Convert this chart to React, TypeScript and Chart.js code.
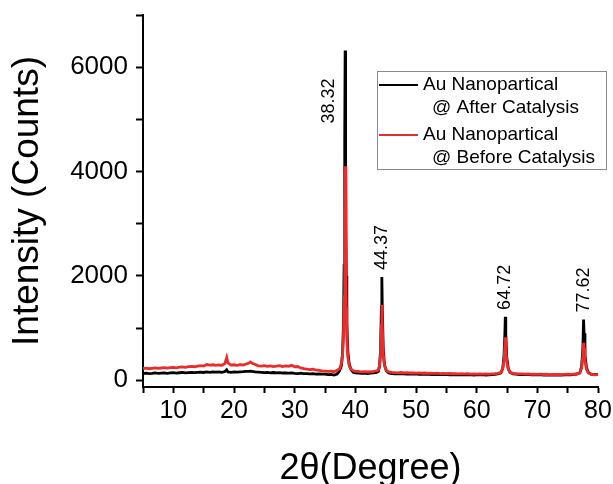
import React, { useEffect, useRef } from 'react';
import { Chart, registerables } from 'chart.js';

Chart.register(...registerables);

// 2θ positions (degrees)
const twoTheta = [
  5, 5.5, 6, 6.5, 7, 7.5, 8, 8.5, 9, 9.5, 10, 10.5, 11, 11.5, 12, 12.5, 13, 13.5, 14, 14.5,
  15, 15.5, 16, 16.5, 17, 17.5, 18, 18.5, 18.8, 19, 19.5, 20, 20.5, 21, 21.5, 22, 22.5, 22.7, 23, 23.5,
  24, 24.5, 25, 25.5, 26, 26.5, 27, 27.5, 28, 28.5, 29, 29.5, 30, 30.5, 31, 31.5, 32, 32.5, 33, 33.5,
  34, 34.5, 35, 35.5, 36, 36.5, 37,
  37.4, 37.7, 37.9, 38.05, 38.15, 38.25, 38.32, 38.4, 38.5, 38.6, 38.75, 39, 39.3, 39.7, 40,
  40.5, 41, 41.5, 42, 42.5, 43, 43.5,
  43.8, 44, 44.15, 44.3, 44.37, 44.45, 44.6, 44.8, 45.1, 45.5,
  46, 46.5, 47, 47.5, 48, 48.5, 49, 49.5, 50, 50.5, 51, 51.5, 52, 52.5, 53, 53.5, 54, 54.5,
  55, 55.5, 56, 56.5, 57, 57.5, 58, 58.5, 59, 59.5, 60, 60.5, 61, 61.5, 62, 62.5, 63, 63.5,
  64, 64.3, 64.5, 64.65, 64.72, 64.8, 64.95, 65.2, 65.5, 66,
  66.5, 67, 67.5, 68, 68.5, 69, 69.5, 70, 70.5, 71, 71.5, 72, 72.5, 73, 73.5, 74, 74.5, 75, 75.5, 76, 76.5,
  77, 77.3, 77.5, 77.62, 77.7, 77.85, 78.1, 78.4, 78.8,
  79, 79.5, 80,
];

// Intensity (counts) – Au nanoparticles after catalysis
const afterCatalysis = [
  128, 135, 126, 132, 140, 130, 136, 142, 133, 139, 145, 137, 143, 150, 141, 147, 152, 144, 150, 156,
  148, 158, 152, 160, 154, 158, 150, 165, 200, 160, 152, 158, 155, 160, 163, 170, 168, 175, 168, 160,
  155, 150, 146, 150, 142, 148, 140, 145, 138, 142, 135, 140, 132, 128, 134, 125, 128, 122, 126, 118,
  122, 115, 118, 108, 112, 100, 120,
  180, 280, 520, 1100, 2200, 4600, 6320, 4300, 2000, 1100, 560, 300, 200, 150, 140,
  138, 132, 136, 128, 134, 140, 150,
  170, 280, 560, 1400, 1980, 1350, 600, 300, 180, 140,
  128, 122, 126, 120, 124, 118, 122, 116, 120, 114, 118, 112, 116, 110, 114, 108, 112, 106,
  110, 104, 108, 104, 106, 102, 108, 103, 106, 100, 105, 102, 106, 100, 104, 108, 112, 120,
  140, 230, 450, 900, 1214, 900, 450, 230, 150, 120,
  116, 110, 112, 106, 110, 104, 108, 102, 106, 100, 104, 98, 102, 100, 104, 98, 102, 106, 104, 110, 118,
  140, 260, 600, 1165, 900, 480, 240, 150, 120,
  112, 106, 110,
];

// Intensity (counts) – Au nanoparticles before catalysis
const beforeCatalysis = [
  224, 232, 220, 228, 236, 226, 234, 242, 232, 240, 246, 238, 250, 256, 248, 260, 266, 258, 270, 280,
  272, 300, 288, 296, 284, 292, 286, 320, 435, 330, 290, 296, 286, 300, 292, 310, 330, 350, 325, 300,
  276, 270, 280, 266, 274, 262, 270, 280, 262, 276, 268, 285, 256, 262, 236, 222, 212, 204, 210, 196,
  188, 180, 176, 168, 172, 165, 190,
  220, 320, 500, 900, 1600, 3100, 4100, 2900, 1400, 800, 450, 280, 210, 180, 170,
  168, 160, 165, 158, 162, 170, 180,
  195, 290, 500, 1050, 1440, 1000, 500, 280, 190, 160,
  150, 146, 142, 148, 140, 144, 138, 142, 136, 140, 134, 138, 132, 136, 130, 134, 128, 132,
  126, 130, 124, 128, 122, 126, 120, 124, 118, 122, 118, 120, 116, 120, 118, 122, 126, 132,
  150, 220, 380, 650, 820, 640, 360, 210, 150, 130,
  124, 120, 122, 116, 120, 114, 118, 112, 116, 110, 114, 108, 112, 110, 112, 106, 110, 114, 112, 118, 124,
  140, 240, 480, 715, 620, 380, 210, 140, 115,
  110, 104, 108,
];

const seriesLabels = ['Au Nanopartical\n@ After Catalysis', 'Au Nanopartical\n@ Before Catalysis'];
const seriesColors = ['#000000', '#ec2b2b'];
const peakAngles = [38.32, 44.37, 64.72, 77.62];

const xMin = 5;
const xMax = 80;
const xTickValues = [5, 10, 15, 20, 25, 30, 35, 40, 45, 50, 55, 60, 65, 70, 75, 80];
const xTickLabels = ['', '10', '', '20', '', '30', '', '40', '', '50', '', '60', '', '70', '', '80'];
const yMin = -130;
const yMax = 7000;
const yTickValues = [0, 1000, 2000, 3000, 4000, 5000, 6000, 7000];
const yTickLabels = ['0', '', '2000', '', '4000', '', '6000', ''];

const FONT = "'Liberation Sans', Arial, Helvetica, sans-serif";

const peakLabelPlugin = {
  id: 'peakLabels',
  afterDatasetsDraw(chart: any) {
    const { ctx, scales } = chart;
    const xs = scales.x;
    const ys = scales.y;
    ctx.save();
    ctx.font = `18px ${FONT}`;
    ctx.fillStyle = '#000';
    ctx.textBaseline = 'middle';
    ctx.textAlign = 'left';
    peakAngles.forEach((angle, k) => {
      let best = 0;
      twoTheta.forEach((t, i) => {
        if (Math.abs(t - angle) < 0.3 && afterCatalysis[i] > best) best = afterCatalysis[i];
      });
      const px = xs.getPixelForValue(angle);
      const py = ys.getPixelForValue(best);
      let ax = px;
      let ay = py - 7;
      if (k === 0) {
        ax = px - 16;
        ay = py + 73;
      }
      ctx.save();
      ctx.translate(ax, ay);
      ctx.rotate(-Math.PI / 2);
      ctx.fillText(angle.toFixed(2), 0, 0);
      ctx.restore();
    });
    ctx.restore();
  },
};

const boxLegendPlugin = {
  id: 'boxLegend',
  afterDraw(chart: any) {
    const { ctx, chartArea } = chart;
    const left = chartArea.left + 234;
    const top = chartArea.top + 56;
    const w = 229;
    const h = 98;
    ctx.save();
    ctx.fillStyle = '#fff';
    ctx.fillRect(left, top, w, h);
    ctx.strokeStyle = '#8a8a8a';
    ctx.lineWidth = 1;
    ctx.strokeRect(left + 0.5, top + 0.5, w, h);
    ctx.font = `19px ${FONT}`;
    ctx.textBaseline = 'middle';
    ctx.textAlign = 'left';
    chart.data.datasets.forEach((ds: any, i: number) => {
      const lines = String(ds.label).split('\n');
      const y1 = top + 14 + i * 50;
      ctx.strokeStyle = ds.borderColor;
      ctx.lineWidth = 2;
      ctx.beginPath();
      ctx.moveTo(left + 2, y1);
      ctx.lineTo(left + 41, y1);
      ctx.stroke();
      ctx.fillStyle = '#000';
      ctx.fillText(lines[0], left + 46, y1);
      if (lines[1]) ctx.fillText(lines[1], left + 55, y1 + 23);
    });
    ctx.restore();
  },
};

export default function App() {
  const canvasRef = useRef<HTMLCanvasElement | null>(null);

  useEffect(() => {
    const canvas = canvasRef.current;
    if (!canvas) return;
    const H = 492;
    const chart = new Chart(canvas, {
      type: 'line',
      data: {
        datasets: [
          {
            label: seriesLabels[0],
            data: twoTheta.map((x, i) => ({ x, y: afterCatalysis[i] })),
            borderColor: seriesColors[0],
            backgroundColor: seriesColors[0],
            borderWidth: 2.8,
            pointRadius: 0,
            tension: 0,
            order: 1,
          },
          {
            label: seriesLabels[1],
            data: twoTheta.map((x, i) => ({ x, y: beforeCatalysis[i] })),
            borderColor: seriesColors[1],
            backgroundColor: seriesColors[1],
            borderWidth: 2.8,
            pointRadius: 0,
            tension: 0,
            order: 0,
          },
        ],
      },
      options: {
        animation: false,
        responsive: false,
        devicePixelRatio: 1,
        layout: { padding: { left: 0, top: 15, right: 15, bottom: 0 } },
        plugins: {
          legend: { display: false },
          tooltip: { enabled: false },
        },
        scales: {
          x: {
            type: 'linear',
            min: xMin,
            max: xMax,
            afterBuildTicks: (scale: any) => {
              scale.ticks = xTickValues.map((v) => ({ value: v }));
            },
            afterFit: (scale: any) => {
              scale.height = H - 387;
              scale.paddingLeft = 0;
              scale.paddingRight = 0;
            },
            ticks: {
              autoSkip: false,
              maxRotation: 0,
              color: '#000',
              padding: 3,
              font: { family: FONT, size: 25 },
              callback: (v: any) => {
                const idx = xTickValues.indexOf(Number(v));
                return idx >= 0 ? xTickLabels[idx] : '';
              },
            },
            grid: {
              drawOnChartArea: false,
              drawTicks: true,
              tickLength: 6,
              tickColor: '#000',
              tickWidth: 2,
            },
            border: { display: true, color: '#000', width: 2 },
            title: {
              display: true,
              text: '2θ(Degree)',
              color: '#000',
              font: { family: FONT, size: 36 },
              padding: { top: 0, bottom: 1 },
            },
          },
          y: {
            type: 'linear',
            min: yMin,
            max: yMax,
            afterBuildTicks: (scale: any) => {
              scale.ticks = yTickValues.map((v) => ({ value: v }));
            },
            afterFit: (scale: any) => {
              scale.width = 143;
              scale.paddingTop = 0;
              scale.paddingBottom = 0;
            },
            ticks: {
              autoSkip: false,
              color: '#000',
              padding: 8,
              font: { family: FONT, size: 26 },
              callback: (v: any) => {
                const idx = yTickValues.indexOf(Number(v));
                return idx >= 0 ? yTickLabels[idx] : '';
              },
            },
            grid: {
              drawOnChartArea: false,
              drawTicks: true,
              tickLength: 7,
              tickColor: '#000',
              tickWidth: 2,
            },
            border: { display: true, color: '#000', width: 2 },
            title: {
              display: true,
              text: 'Intensity (Counts)',
              color: '#000',
              font: { family: FONT, size: 37 },
              padding: { top: 6, bottom: 0 },
            },
          },
        },
      },
      plugins: [peakLabelPlugin, boxLegendPlugin],
    } as any);
    return () => chart.destroy();
  }, []);

  return (
    <div
      style={{
        position: 'fixed',
        left: 0,
        top: 0,
        width: 613,
        height: 484,
        overflow: 'hidden',
        background: '#fff',
      }}
    >
      <canvas ref={canvasRef} width={613} height={492} style={{ display: 'block', width: 613, height: 492 }} />
    </div>
  );
}
